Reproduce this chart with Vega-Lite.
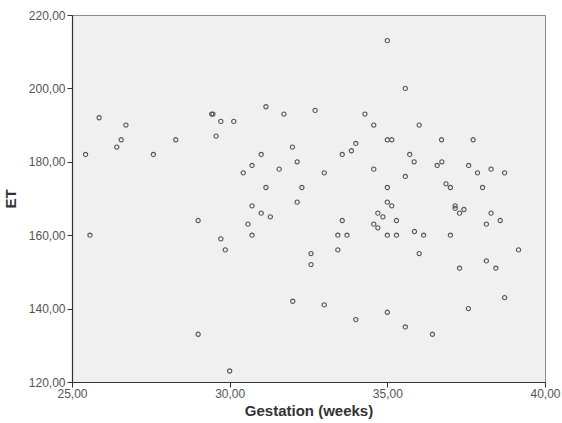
{
  "$schema": "https://vega.github.io/schema/vega-lite/v6.json",
  "width": 473,
  "height": 367,
  "autosize": {"type": "none"},
  "padding": {"left": 72, "top": 15, "right": 17, "bottom": 41},
  "background": "white",
  "config": {
    "view": {"fill": "#F0F0F0", "stroke": "#8a8a8a", "strokeWidth": 1},
    "axis": {
      "grid": false,
      "domainColor": "#333333",
      "domainWidth": 1.2,
      "tickColor": "#333333",
      "tickSize": 5,
      "labelFont": "Liberation Sans",
      "labelFontSize": 12,
      "labelColor": "#555555",
      "labelFlush": false,
      "titleFont": "Liberation Sans",
      "titleFontSize": 15,
      "titleFontWeight": "bold",
      "titleColor": "#333333"
    }
  },
  "data": {
    "values": [
      {"gestation": 25.43, "ET": 182},
      {"gestation": 25.86, "ET": 192},
      {"gestation": 26.42, "ET": 184},
      {"gestation": 26.56, "ET": 186},
      {"gestation": 26.71, "ET": 190},
      {"gestation": 27.58, "ET": 182},
      {"gestation": 28.29, "ET": 186},
      {"gestation": 29.43, "ET": 193},
      {"gestation": 29.47, "ET": 193},
      {"gestation": 29.57, "ET": 187},
      {"gestation": 29.72, "ET": 191},
      {"gestation": 30.13, "ET": 191},
      {"gestation": 31.15, "ET": 195},
      {"gestation": 31.72, "ET": 193},
      {"gestation": 32.71, "ET": 194},
      {"gestation": 34.29, "ET": 193},
      {"gestation": 34.57, "ET": 190},
      {"gestation": 31.99, "ET": 184},
      {"gestation": 31.0, "ET": 182},
      {"gestation": 34.0, "ET": 185},
      {"gestation": 33.86, "ET": 183},
      {"gestation": 33.57, "ET": 182},
      {"gestation": 32.14, "ET": 180},
      {"gestation": 30.71, "ET": 179},
      {"gestation": 30.43, "ET": 177},
      {"gestation": 31.57, "ET": 178},
      {"gestation": 33.0, "ET": 177},
      {"gestation": 34.57, "ET": 178},
      {"gestation": 31.15, "ET": 173},
      {"gestation": 32.29, "ET": 173},
      {"gestation": 35.0, "ET": 213},
      {"gestation": 35.57, "ET": 200},
      {"gestation": 36.01, "ET": 190},
      {"gestation": 35.0, "ET": 186},
      {"gestation": 35.14, "ET": 186},
      {"gestation": 36.72, "ET": 186},
      {"gestation": 37.72, "ET": 186},
      {"gestation": 35.71, "ET": 182},
      {"gestation": 35.85, "ET": 180},
      {"gestation": 36.73, "ET": 180},
      {"gestation": 36.58, "ET": 179},
      {"gestation": 37.58, "ET": 179},
      {"gestation": 37.86, "ET": 177},
      {"gestation": 38.29, "ET": 178},
      {"gestation": 38.72, "ET": 177},
      {"gestation": 35.57, "ET": 176},
      {"gestation": 36.86, "ET": 174},
      {"gestation": 37.0, "ET": 173},
      {"gestation": 38.02, "ET": 173},
      {"gestation": 35.0, "ET": 173},
      {"gestation": 25.57, "ET": 160},
      {"gestation": 29.0, "ET": 164},
      {"gestation": 29.0, "ET": 133},
      {"gestation": 32.14, "ET": 169},
      {"gestation": 30.71, "ET": 168},
      {"gestation": 31.0, "ET": 166},
      {"gestation": 31.29, "ET": 165},
      {"gestation": 30.58, "ET": 163},
      {"gestation": 30.71, "ET": 160},
      {"gestation": 29.72, "ET": 159},
      {"gestation": 29.86, "ET": 156},
      {"gestation": 32.58, "ET": 155},
      {"gestation": 32.58, "ET": 152},
      {"gestation": 33.57, "ET": 164},
      {"gestation": 33.43, "ET": 160},
      {"gestation": 33.72, "ET": 160},
      {"gestation": 33.43, "ET": 156},
      {"gestation": 34.7, "ET": 166},
      {"gestation": 34.57, "ET": 163},
      {"gestation": 34.7, "ET": 162},
      {"gestation": 34.86, "ET": 165},
      {"gestation": 32.0, "ET": 142},
      {"gestation": 33.0, "ET": 141},
      {"gestation": 34.0, "ET": 137},
      {"gestation": 30.0, "ET": 123},
      {"gestation": 35.0, "ET": 169},
      {"gestation": 35.14, "ET": 168},
      {"gestation": 35.29, "ET": 164},
      {"gestation": 35.0, "ET": 160},
      {"gestation": 35.29, "ET": 160},
      {"gestation": 35.86, "ET": 161},
      {"gestation": 36.15, "ET": 160},
      {"gestation": 37.0, "ET": 160},
      {"gestation": 36.01, "ET": 155},
      {"gestation": 37.15, "ET": 168},
      {"gestation": 37.15, "ET": 167.3},
      {"gestation": 37.29, "ET": 166},
      {"gestation": 37.43, "ET": 167},
      {"gestation": 38.29, "ET": 166},
      {"gestation": 38.14, "ET": 163},
      {"gestation": 38.58, "ET": 164},
      {"gestation": 39.16, "ET": 156},
      {"gestation": 38.14, "ET": 153},
      {"gestation": 37.29, "ET": 151},
      {"gestation": 38.44, "ET": 151},
      {"gestation": 38.72, "ET": 143},
      {"gestation": 37.57, "ET": 140},
      {"gestation": 35.0, "ET": 139},
      {"gestation": 35.57, "ET": 135},
      {"gestation": 36.43, "ET": 133}
    ]
  },
  "mark": {"type": "point", "shape": "circle", "filled": false, "size": 18, "stroke": "#555555", "strokeWidth": 1.1, "opacity": 1},
  "encoding": {
    "x": {
      "field": "gestation",
      "type": "quantitative",
      "title": "Gestation (weeks)",
      "scale": {"domain": [25, 40], "nice": false, "zero": false},
      "axis": {"values": [25, 30, 35, 40], "labelExpr": "replace(format(datum.value, '.2f'), '.', ',')", "labelPadding": 1, "titlePadding": 4}
    },
    "y": {
      "field": "ET",
      "type": "quantitative",
      "title": "ET",
      "scale": {"domain": [120, 220], "nice": false, "zero": false},
      "axis": {"values": [120, 140, 160, 180, 200, 220], "labelExpr": "replace(format(datum.value, '.2f'), '.', ',')", "labelPadding": 2, "titlePadding": 10}
    }
  }
}
